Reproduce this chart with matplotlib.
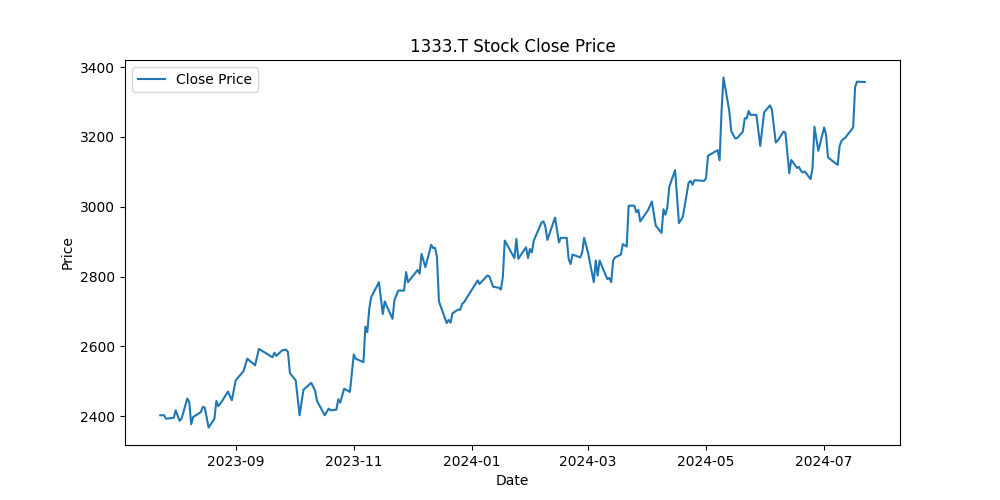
import pandas as pd
import matplotlib
matplotlib.use("Agg")
import matplotlib.pyplot as plt

# close prices
dates = [
    "2023-07-24", "2023-07-26", "2023-07-27", "2023-07-31", "2023-08-01", "2023-08-03",
    "2023-08-04", "2023-08-07", "2023-08-08", "2023-08-09", "2023-08-10", "2023-08-14",
    "2023-08-15", "2023-08-16", "2023-08-18", "2023-08-21", "2023-08-22", "2023-08-23",
    "2023-08-25", "2023-08-28", "2023-08-30", "2023-09-01", "2023-09-05", "2023-09-07",
    "2023-09-11", "2023-09-13", "2023-09-20", "2023-09-21", "2023-09-22", "2023-09-25",
    "2023-09-27", "2023-09-28", "2023-09-29", "2023-10-02", "2023-10-04", "2023-10-06",
    "2023-10-10", "2023-10-12", "2023-10-13", "2023-10-17", "2023-10-19", "2023-10-20",
    "2023-10-23", "2023-10-24", "2023-10-25", "2023-10-27", "2023-10-30", "2023-11-01",
    "2023-11-02", "2023-11-06", "2023-11-07", "2023-11-08", "2023-11-09", "2023-11-10",
    "2023-11-14", "2023-11-16", "2023-11-17", "2023-11-21", "2023-11-22", "2023-11-24",
    "2023-11-27", "2023-11-28", "2023-11-29", "2023-12-04", "2023-12-05", "2023-12-06",
    "2023-12-08", "2023-12-11", "2023-12-12", "2023-12-13", "2023-12-14", "2023-12-15",
    "2023-12-19", "2023-12-20", "2023-12-21", "2023-12-22", "2023-12-25", "2023-12-26",
    "2023-12-27", "2023-12-28", "2024-01-04", "2024-01-05", "2024-01-09", "2024-01-10",
    "2024-01-12", "2024-01-15", "2024-01-16", "2024-01-17", "2024-01-18", "2024-01-23",
    "2024-01-24", "2024-01-25", "2024-01-29", "2024-01-30", "2024-01-31", "2024-02-01",
    "2024-02-02", "2024-02-06", "2024-02-07", "2024-02-08", "2024-02-09", "2024-02-13",
    "2024-02-15", "2024-02-16", "2024-02-19", "2024-02-20", "2024-02-21", "2024-02-22",
    "2024-02-26", "2024-02-27", "2024-02-28", "2024-03-01", "2024-03-04", "2024-03-05",
    "2024-03-06", "2024-03-07", "2024-03-11", "2024-03-12", "2024-03-13", "2024-03-14",
    "2024-03-15", "2024-03-18", "2024-03-19", "2024-03-21", "2024-03-22", "2024-03-25",
    "2024-03-26", "2024-03-27", "2024-03-28", "2024-04-01", "2024-04-03", "2024-04-05",
    "2024-04-08", "2024-04-09", "2024-04-10", "2024-04-11", "2024-04-12", "2024-04-15",
    "2024-04-17", "2024-04-19", "2024-04-22", "2024-04-23", "2024-04-24", "2024-04-25",
    "2024-04-30", "2024-05-01", "2024-05-02", "2024-05-07", "2024-05-08", "2024-05-09",
    "2024-05-10", "2024-05-13", "2024-05-14", "2024-05-16", "2024-05-17", "2024-05-20",
    "2024-05-21", "2024-05-22", "2024-05-23", "2024-05-24", "2024-05-27", "2024-05-29",
    "2024-05-31", "2024-06-03", "2024-06-04", "2024-06-06", "2024-06-07", "2024-06-10",
    "2024-06-11", "2024-06-13", "2024-06-14", "2024-06-17", "2024-06-18", "2024-06-19",
    "2024-06-20", "2024-06-21", "2024-06-24", "2024-06-25", "2024-06-26", "2024-06-28",
    "2024-07-01", "2024-07-02", "2024-07-03", "2024-07-08", "2024-07-09", "2024-07-10",
    "2024-07-12", "2024-07-16", "2024-07-17", "2024-07-18", "2024-07-22",
]
close = [
    2403, 2403, 2393, 2396, 2417, 2387,
    2393, 2451, 2441, 2377, 2398, 2412,
    2427, 2425, 2368, 2393, 2444, 2429,
    2444, 2471, 2446, 2503, 2529, 2565,
    2546, 2593, 2569, 2582, 2573, 2589,
    2591, 2584, 2524, 2503, 2403, 2476,
    2496, 2474, 2444, 2403, 2422, 2417,
    2419, 2449, 2439, 2479, 2470, 2577,
    2565, 2555, 2657, 2641, 2708, 2741,
    2784, 2693, 2729, 2679, 2733, 2760,
    2760, 2813, 2784, 2819, 2808, 2865,
    2827, 2891, 2882, 2882, 2855, 2729,
    2667, 2676, 2668, 2695, 2706, 2705,
    2722, 2727, 2789, 2779, 2803, 2801,
    2771, 2768, 2763, 2798, 2903, 2853,
    2908, 2851, 2884, 2853, 2879, 2869,
    2903, 2955, 2958, 2943, 2905, 2969,
    2898, 2911, 2911, 2851, 2836, 2863,
    2855, 2869, 2911, 2869, 2784, 2846,
    2803, 2846, 2793, 2796, 2784, 2846,
    2855, 2863, 2893, 2886, 3003, 3003,
    2984, 2991, 2958, 2990, 3015, 2946,
    2925, 2993, 2977, 2998, 3057, 3105,
    2953, 2971, 3069, 3074, 3063, 3076,
    3074, 3082, 3146, 3162, 3133, 3274,
    3370, 3274, 3217, 3196, 3196, 3215,
    3253, 3253, 3274, 3263, 3263, 3174,
    3270, 3290, 3279, 3184, 3189, 3215,
    3212, 3096, 3134, 3111, 3114, 3103,
    3098, 3101, 3079, 3111, 3229, 3160,
    3227, 3206, 3141, 3120, 3174, 3189,
    3198, 3227, 3343, 3358, 3357,
]

dates = pd.to_datetime(dates)

plt.figure(figsize=(10, 5))
plt.plot(dates, close, label='Close Price')
plt.title('1333.T Stock Close Price')
plt.xlabel('Date')
plt.ylabel('Price')
plt.legend()
plt.savefig('out.png')
